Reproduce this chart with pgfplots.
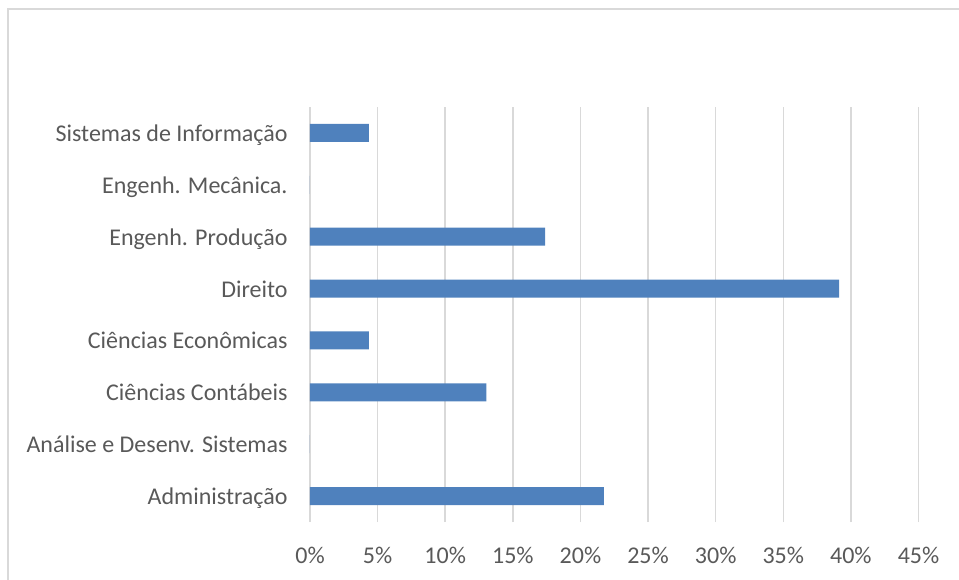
\documentclass[border=0pt]{standalone}
\usepackage{fontspec}
\setmainfont{Carlito}
\usepackage{pgfplots}
\pgfplotsset{compat=1.18}
\definecolor{barblue}{HTML}{4F81BD}
\definecolor{gridgray}{HTML}{D9D9D9}
\definecolor{txt}{HTML}{595959}
\begin{document}
\begin{tikzpicture}[font=\fontsize{24bp}{29bp}\selectfont]
\useasboundingbox (-310bp,-58bp) rectangle (649bp,522bp);
\draw[gridgray, line width=1.5bp] (-302bp,-60bp) -- (-302bp,513bp) -- (651bp,513bp);
\begin{axis}[
  at={(0,0)}, anchor=south west,
  scale only axis, width=608.5bp, height=415bp,
  xbar, bar width=18bp,
  xmin=0, xmax=45, ymin=-0.5, ymax=7.5,
  axis line style={draw=none},
  tick style={draw=none},
  xmajorgrids,
  major grid style={gridgray, line width=1.5bp},
  xtick={0,5,...,45},
  xticklabels={0\%,5\%,10\%,15\%,20\%,25\%,30\%,35\%,40\%,45\%},
  ytick={0,...,7},
  yticklabels={Administração,Análise e Desenv. Sistemas,Ciências Contábeis,Ciências Econômicas,Direito,Engenh. Produção,Engenh. Mecânica.,Sistemas de Informação},
  tick label style={text=txt, inner sep=0pt, font=\fontsize{24bp}{29bp}\selectfont},
  xticklabel style={anchor=base, yshift=-41.5bp},
  yticklabel style={anchor=base east, xshift=-18bp, yshift=-8.5bp},
]
\addplot[fill=barblue, draw=none] coordinates {
  (21.74,0) (0,1) (13.04,2) (4.35,3) (39.13,4) (17.39,5) (0,6) (4.35,7)
};
\end{axis}
\end{tikzpicture}
\end{document}
